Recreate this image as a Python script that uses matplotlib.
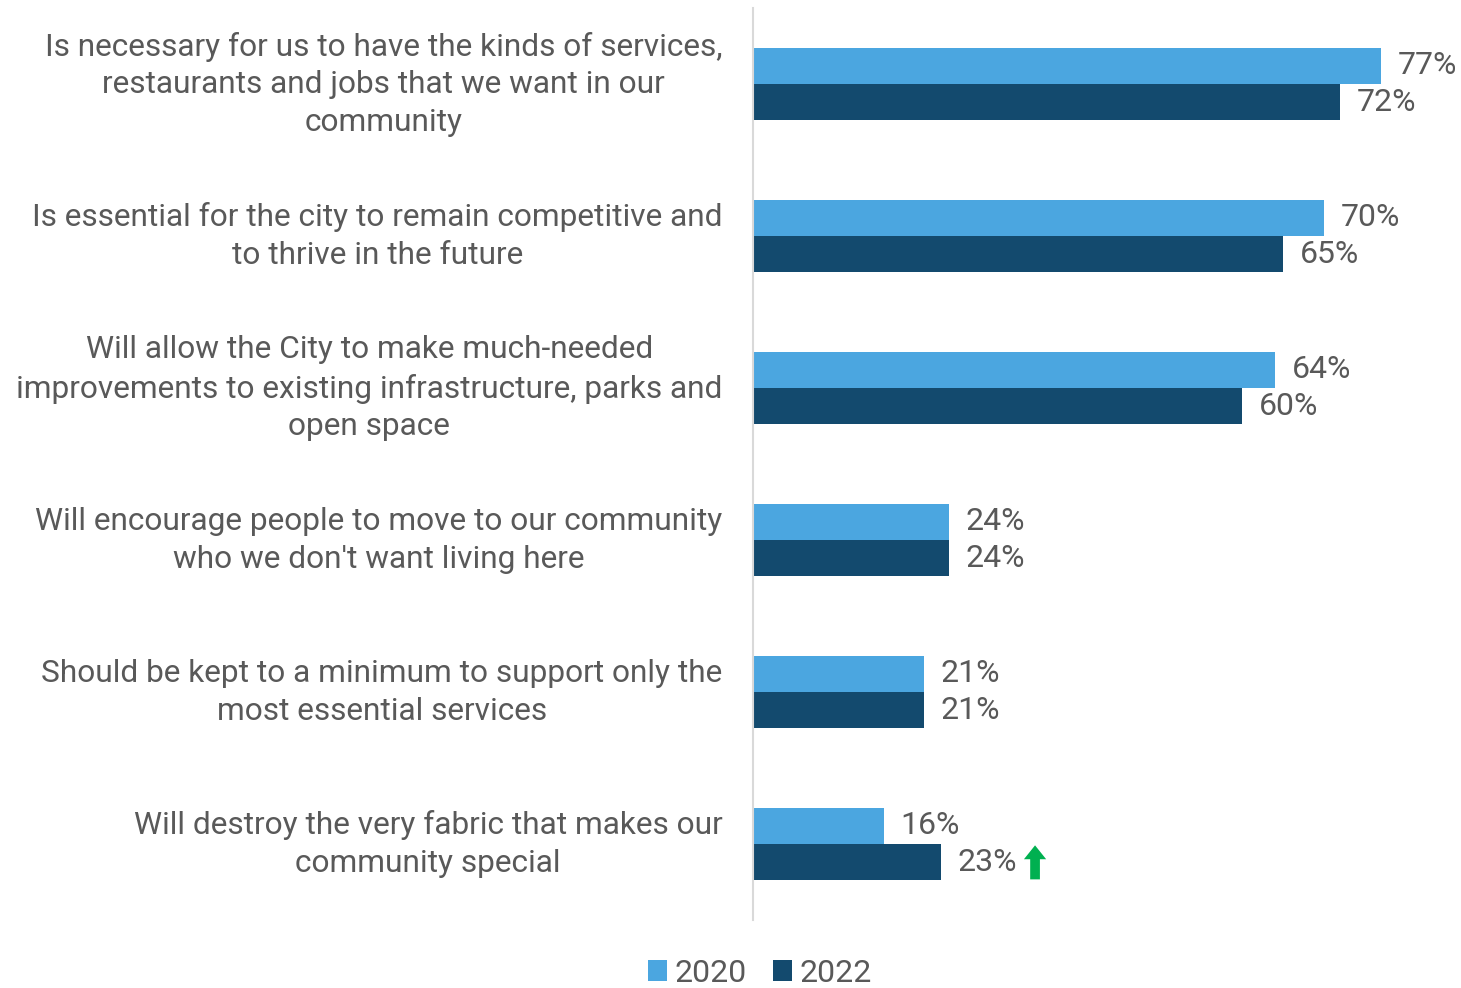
import matplotlib.pyplot as plt
import matplotlib.transforms as mtransforms
import numpy as np

plt.rcParams['font.family'] = ['Roboto', 'DejaVu Sans']

statements = [
    "Is necessary for us to have the kinds of services,\nrestaurants and jobs that we want in our\ncommunity",
    "Is essential for the city to remain competitive and\nto thrive in the future",
    "Will allow the City to make much-needed\nimprovements to existing infrastructure, parks and\nopen space",
    "Will encourage people to move to our community\nwho we don't want living here",
    "Should be kept to a minimum to support only the\nmost essential services",
    "Will destroy the very fabric that makes our\ncommunity special",
]
pct_2020 = [77, 70, 64, 24, 21, 16]
pct_2022 = [72, 65, 60, 24, 21, 23]

c2020 = '#4BA6E0'
c2022 = '#134A6E'
grey = '#595959'

fig = plt.figure(figsize=(14.61, 9.88), dpi=100)
ax = fig.add_axes([753 / 1461, 1 - 920 / 988, 1 - 753 / 1461, 912 / 988])

y = np.arange(len(statements))
h = 0.237
ax.barh(y - h / 2, pct_2020, height=h, color=c2020, label='2020')
ax.barh(y + h / 2, pct_2022, height=h, color=c2022, label='2022')
ax.set_ylim(len(statements) - 0.5, -0.5)
ax.set_xlim(0, 86.8)

for i, (a, b) in enumerate(zip(pct_2020, pct_2022)):
    ax.annotate(f'{a}%', (a, i - h / 2), xytext=(12, 0), textcoords='offset points',
                va='center', ha='left', fontsize=23, color=grey)
    ax.annotate(f'{b}%', (b, i + h / 2), xytext=(12, 0), textcoords='offset points',
                va='center', ha='left', fontsize=23, color=grey)

# green up arrow to the right of the increased 2022 value
last = len(statements) - 1
base = (pct_2022[last], last + h / 2)
low = mtransforms.offset_copy(ax.transData, fig=fig, x=68, y=-12.5, units='points')
high = mtransforms.offset_copy(ax.transData, fig=fig, x=68, y=12, units='points')
ax.annotate('', xy=base, xycoords=high, xytext=base, textcoords=low,
            arrowprops=dict(arrowstyle='simple,head_width=16,head_length=10,tail_width=7',
                            mutation_scale=1, color='#00B050', lw=0,
                            shrinkA=0, shrinkB=0),
            annotation_clip=False)

ax.set_yticks(y)
ax.set_yticklabels(statements, fontsize=22.8, color=grey, multialignment='center',
                   linespacing=1.38)
ax.tick_params(axis='y', length=0, pad=22)
# nudge the wrapped labels up a little so they sit level with the bar pairs
nudge = mtransforms.ScaledTranslation(0, 0.07, fig.dpi_scale_trans)
for lbl in ax.get_yticklabels():
    lbl.set_transform(lbl.get_transform() + nudge)
ax.set_xticks([])
for s in ['top', 'right', 'bottom']:
    ax.spines[s].set_visible(False)
ax.spines['left'].set_color('#D9D9D9')
ax.spines['left'].set_linewidth(1.5)

fig.legend(loc='lower center', bbox_to_anchor=(760 / 1461, -0.029), ncol=2, frameon=False,
           fontsize=23, labelcolor=grey, handlelength=0.6, handleheight=0.6,
           handletextpad=0.25, columnspacing=0.8)

fig.savefig('out.png', dpi=100)
